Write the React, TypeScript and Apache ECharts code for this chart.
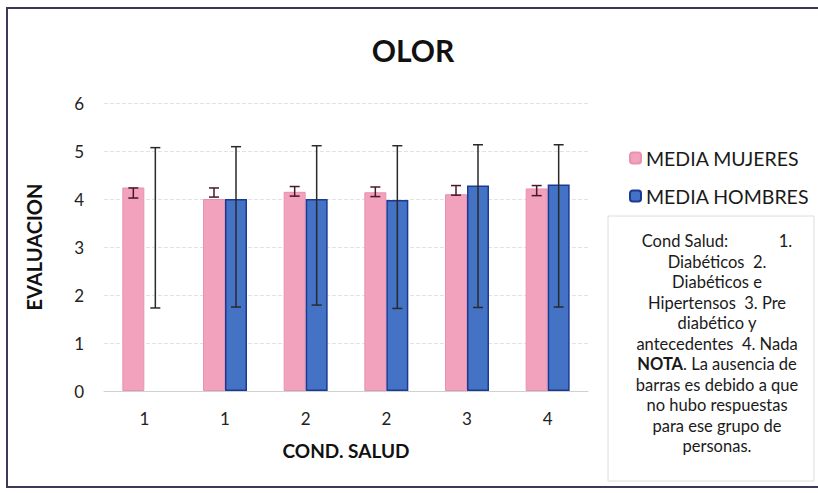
import React, { useEffect, useRef } from "react";
import * as echarts from "echarts";

const categories = ["1", "1", "2", "2", "3", "4"];
const mujeres = [4.24, 4.0, 4.15, 4.14, 4.1, 4.22];
const mujeresLow = [4.02, 4.04, 4.06, 4.05, 4.08, 4.07];
const mujeresHigh = [4.23, 4.23, 4.26, 4.25, 4.28, 4.28];
const hombres: (number | null)[] = [null, 4.0, 4.0, 3.98, 4.28, 4.3];
const hombresLow = [1.73, 1.75, 1.79, 1.72, 1.74, 1.75];
const hombresHigh = [5.07, 5.09, 5.11, 5.11, 5.13, 5.13];
const yTicks = [0, 1, 2, 3, 4, 5, 6];

const noteLines = [
  "Cond Salud:            1.",
  "Diabéticos  2.",
  "Diabéticos e",
  "Hipertensos  3. Pre",
  "diabético y",
  "antecedentes  4. Nada",
  "{b|NOTA}. La ausencia de",
  "barras es debido a que",
  "no hubo respuestas",
  "para ese grupo de",
  "personas.",
];

const FONT = "Lato, 'Open Sans', sans-serif";
const BAR_W = 22;

function errorSeries(name: string, low: number[], high: number[], offset: number, color: string, cap: number) {
  return {
    type: "custom",
    name,
    silent: true,
    z: 10,
    data: low.map((l, i) => [i, l, high[i]]),
    renderItem: (params: any, api: any) => {
      const i = api.value(0);
      const lo = api.coord([i, api.value(1)]);
      const hi = api.coord([i, api.value(2)]);
      const x = lo[0] + offset;
      const st = { stroke: color, lineWidth: 1.5 };
      return {
        type: "group",
        children: [
          { type: "line", shape: { x1: x, y1: lo[1], x2: x, y2: hi[1] }, style: st },
          { type: "line", shape: { x1: x - cap, y1: lo[1], x2: x + cap, y2: lo[1] }, style: st },
          { type: "line", shape: { x1: x - cap, y1: hi[1], x2: x + cap, y2: hi[1] }, style: st },
        ],
      };
    },
  };
}

export default function App() {
  const ref = useRef<HTMLDivElement>(null);
  useEffect(() => {
    if (!ref.current) return;
    const chart = echarts.init(ref.current, null, { renderer: "svg" });
    chart.setOption({
      animation: false,
      backgroundColor: "#ffffff",
      textStyle: { fontFamily: FONT },
      title: {
        text: "OLOR",
        left: 408,
        top: 30,
        textAlign: "center",
        textStyle: { fontFamily: FONT, fontSize: 30, fontWeight: "bold", color: "#111" },
      },
      legend: {
        orient: "vertical",
        left: 624,
        top: 143,
        itemWidth: 11,
        itemHeight: 11,
        itemGap: 18,
        data: ["MEDIA MUJERES", "MEDIA HOMBRES"],
        textStyle: { fontFamily: FONT, fontSize: 19.5, color: "#1a1a1a" },
      },
      grid: { left: 104, right: 230, top: 103, bottom: 102 },
      xAxis: {
        type: "category",
        data: categories,
        name: "COND. SALUD",
        nameLocation: "middle",
        nameGap: 50,
        nameTextStyle: { fontFamily: FONT, fontSize: 19, fontWeight: "bold", color: "#111" },
        axisLine: { lineStyle: { color: "#d0d0d0" } },
        axisTick: { show: false },
        axisLabel: { fontFamily: FONT, fontSize: 17, color: "#222", margin: 19 },
      },
      yAxis: {
        type: "value",
        min: 0,
        max: 6,
        interval: 1,
        name: "EVALUACION",
        nameLocation: "middle",
        nameGap: 60,
        nameTextStyle: { fontFamily: FONT, fontSize: 20, fontWeight: "bold", color: "#111" },
        axisLine: { show: false },
        axisTick: { show: false },
        splitLine: { lineStyle: { color: "#e2e2e2", type: "dashed" } },
        axisLabel: {
          fontFamily: FONT,
          fontSize: 17,
          color: "#222",
          margin: 20,
          formatter: (v: number) => (yTicks.includes(v) ? String(v) : ""),
        },
      },
      series: [
        {
          type: "bar",
          name: "MEDIA MUJERES",
          data: mujeres,
          barWidth: BAR_W,
          barGap: "0%",
          itemStyle: { color: "#f2a2bd", borderColor: "#e892b0", borderWidth: 1 },
        },
        {
          type: "bar",
          name: "MEDIA HOMBRES",
          data: hombres,
          barWidth: BAR_W,
          barGap: "0%",
          itemStyle: { color: "#4472c4", borderColor: "#1c3a94", borderWidth: 1.5 },
        },
        errorSeries("errM", mujeresLow, mujeresHigh, -BAR_W / 2, "#4a1828", 5),
        errorSeries("errH", hombresLow, hombresHigh, BAR_W / 2, "#2a2a2a", 5),
      ],
      graphic: [
        {
          type: "rect",
          shape: { x: 7, y: 8, width: 840, height: 479 },
          style: { fill: "none", stroke: "#3a3a58", lineWidth: 2 },
          silent: true,
        },
        {
          type: "rect",
          shape: { x: 608, y: 216, width: 206, height: 265 },
          style: { fill: "none", stroke: "#dcdcdc", lineWidth: 1 },
          silent: true,
        },
        {
          type: "text",
          x: 717,
          y: 231,
          style: {
            text: noteLines.join("\n"),
            fontFamily: FONT,
            fontSize: 16.5,
            lineHeight: 20.5,
            fill: "#1a1a1a",
            align: "center",
            verticalAlign: "top",
            rich: {
              b: { fontFamily: FONT, fontSize: 16.5, fontWeight: "bold", fill: "#1a1a1a", lineHeight: 20.5 },
            },
          },
        },
      ],
    });
    return () => chart.dispose();
  }, []);
  return <div ref={ref} style={{ width: 818, height: 493, position: "absolute", left: 0, top: 0 }} />;
}
